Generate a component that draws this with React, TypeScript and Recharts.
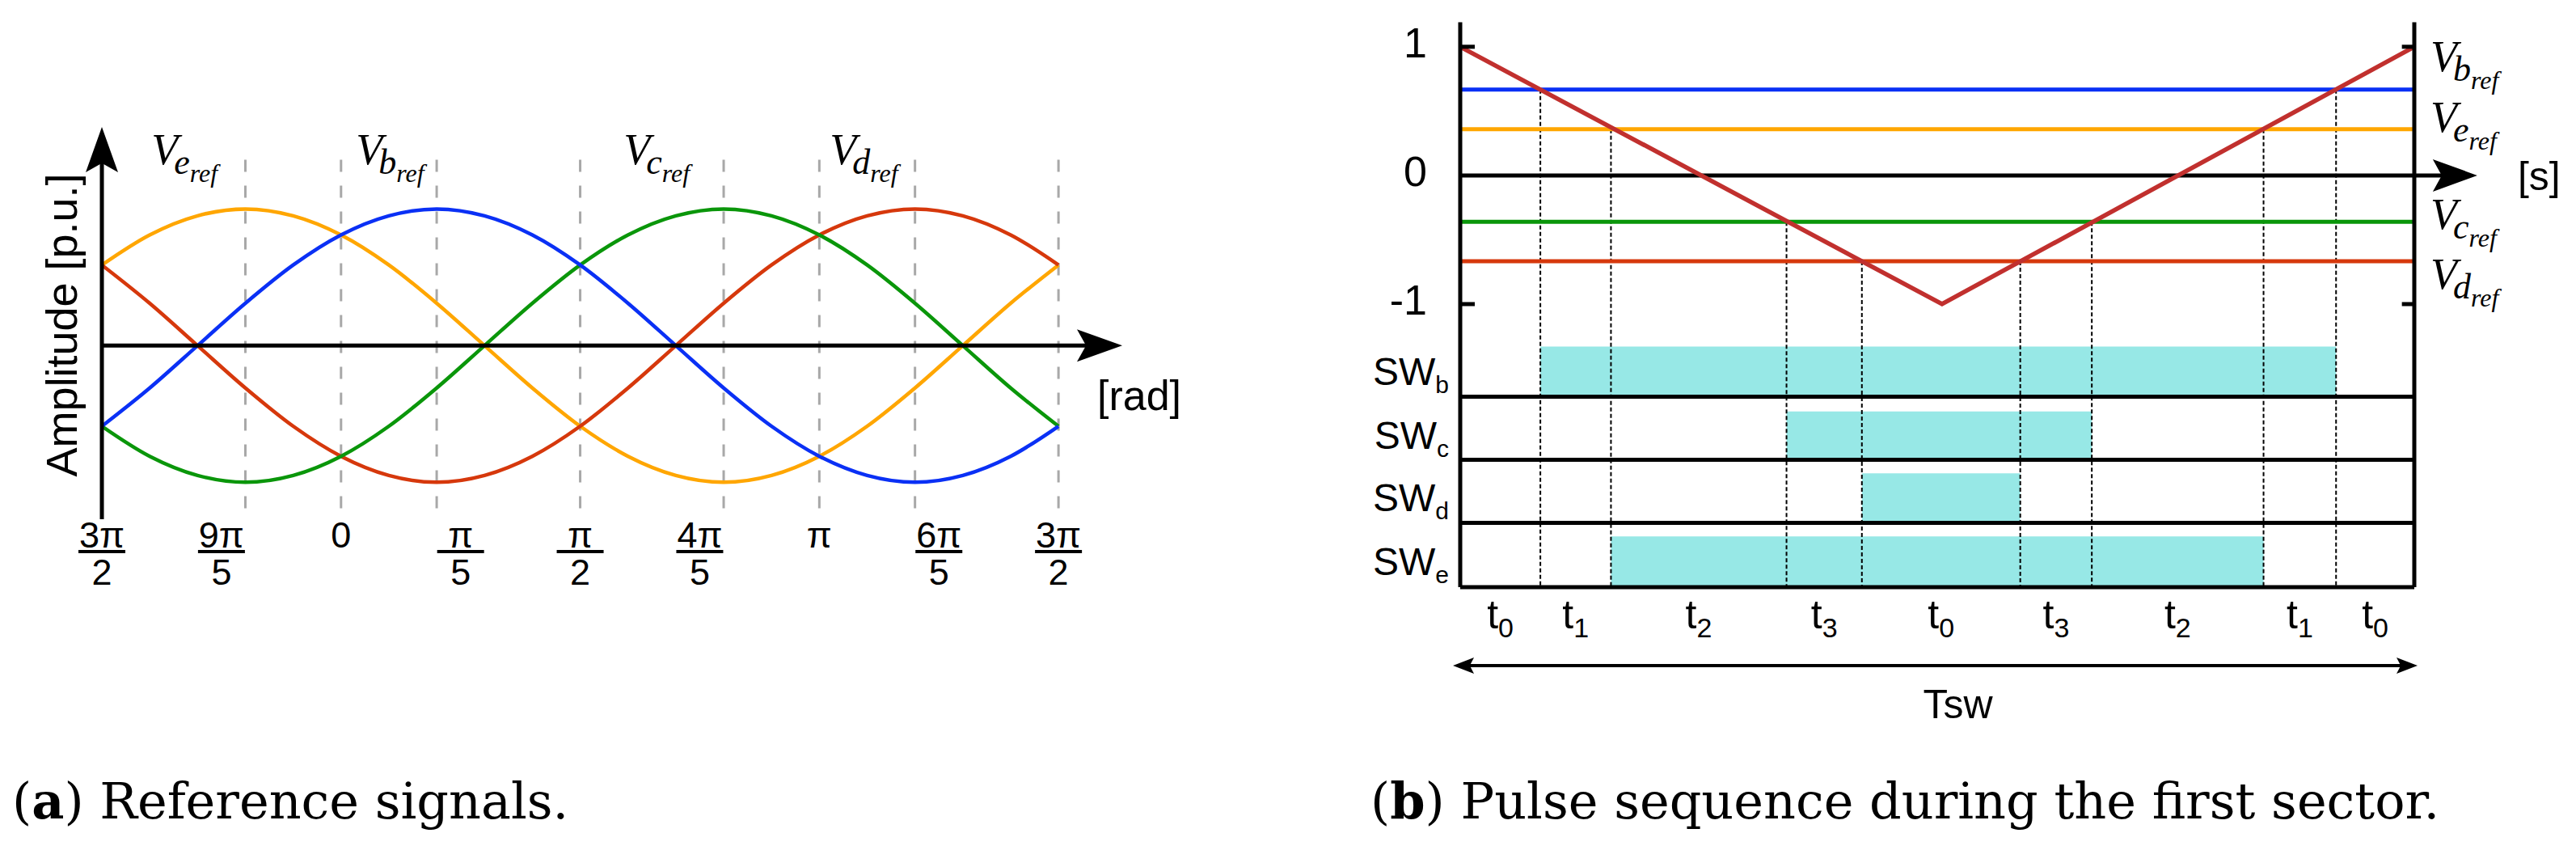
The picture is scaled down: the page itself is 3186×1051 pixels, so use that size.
import {
    ComposedChart,
    Line,
    LineChart,
    ReferenceArea,
    ReferenceDot,
    ReferenceLine,
    XAxis,
    YAxis,
} from 'recharts'

const SANS = "'Liberation Sans', Arial, sans-serif"
const SERIF = "'Liberation Serif', 'Times New Roman', serif"
const CAPTION_FONT = "'DejaVu Serif', 'Liberation Serif', serif"

const COLOR = { e: '#FFA600', b: '#0A30F5', c: '#0A960A', d: '#D6380C' } as Record<string, string>

// ---- (a) reference signals, read every 18° from 3π/2 over one period ----
const angleDeg = [270, 288, 306, 324, 342, 360, 378, 396, 414, 432, 450, 468, 486, 504, 522, 540, 558, 576, 594, 612, 630]
const veRef = [0.59, 0.81, 0.95, 1.0, 0.95, 0.81, 0.59, 0.31, 0.0, -0.31, -0.59, -0.81, -0.95, -1.0, -0.95, -0.81, -0.59, -0.31, 0.0, 0.31, 0.59]
const vbRef = [-0.59, -0.31, 0.0, 0.31, 0.59, 0.81, 0.95, 1.0, 0.95, 0.81, 0.59, 0.31, 0.0, -0.31, -0.59, -0.81, -0.95, -1.0, -0.95, -0.81, -0.59]
const vcRef = [-0.59, -0.81, -0.95, -1.0, -0.95, -0.81, -0.59, -0.31, 0.0, 0.31, 0.59, 0.81, 0.95, 1.0, 0.95, 0.81, 0.59, 0.31, 0.0, -0.31, -0.59]
const vdRef = [0.59, 0.31, 0.0, -0.31, -0.59, -0.81, -0.95, -1.0, -0.95, -0.81, -0.59, -0.31, 0.0, 0.31, 0.59, 0.81, 0.95, 1.0, 0.95, 0.81, 0.59]

// tick labels sit every 45°, the dashed guides at the real angles
const angleTicks = [270, 315, 360, 405, 450, 495, 540, 585, 630]
const angleTickNum = ['3π', '9π', '0', 'π', 'π', '4π', 'π', '6π', '3π']
const angleTickDen = ['2', '5', '', '5', '2', '5', '', '5', '2']
const guideAngles = [324, 360, 396, 450, 504, 540, 576, 630]
const refNames = ['e', 'b', 'c', 'd']
const refNameAngles = [288.6, 365.6, 466.3, 543.9]
const refNameLevel = 1.325

// ---- (b) pulse sequence, time as a fraction of Tsw ----
const carrierT = [0, 0.505, 1]
const carrierV = [1, -1, 1]
const levelNames = ['b', 'e', 'c', 'd']
const levelValues = [0.667, 0.36, -0.36, -0.667]
const levelLabelY = [0.81, 0.34, -0.415, -0.88]
const switchT = [0.084, 0.158, 0.342, 0.421, 0.587, 0.662, 0.842, 0.918]
const switchLevel = [0.667, 0.36, -0.36, -0.667, -0.667, -0.36, 0.36, 0.667]
const intervalNames = ['0', '1', '2', '3', '0', '3', '2', '1', '0']
const swRows = ['b', 'c', 'd', 'e']
const swOn = [0.084, 0.342, 0.421, 0.158]
const swOff = [0.918, 0.662, 0.587, 0.842]
const swTop = [-1.33, -1.835, -2.315, -2.805]
const swBase = [-1.72, -2.21, -2.7, -3.2]
const pulseTicks = [1, 0, -1]

const refRows = angleDeg.map((angle, i) => ({
    angle,
    ve: veRef[i],
    vb: vbRef[i],
    vc: vcRef[i],
    vd: vdRef[i],
}))

const pulseRows = carrierT.map((t, i) => {
    const row: Record<string, number> = { t, carrier: carrierV[i] }
    levelNames.forEach((n, j) => {
        row[n] = levelValues[j]
    })
    return row
})

const bounds = [0, ...switchT, 1]
const intervalCenters = intervalNames.map((_, i) => (bounds[i] + bounds[i + 1]) / 2)
const swCenters = swRows.map((_, i) => (swTop[i] + swBase[i]) / 2)

function arrowHead(x: number, y: number, ux: number, uy: number, len: number, hw: number) {
    const bx = x - ux * len
    const by = y - uy * len
    const px = -uy * hw
    const py = ux * hw
    const nx = x - ux * len * 0.8
    const ny = y - uy * len * 0.8
    return `M${x},${y} L${bx + px},${by + py} L${nx},${ny} L${bx - px},${by - py} Z`
}

type SegProps = { x1?: number; y1?: number; x2?: number; y2?: number }

// axis line with a filled arrow at the end (or both ends)
function arrowLine(len: number, hw: number, width: number, both = false) {
    return (p: SegProps) => {
        const x1 = Number(p.x1)
        const y1 = Number(p.y1)
        const x2 = Number(p.x2)
        const y2 = Number(p.y2)
        const d = Math.hypot(x2 - x1, y2 - y1) || 1
        const ux = (x2 - x1) / d
        const uy = (y2 - y1) / d
        const sx = both ? x1 + ux * len * 0.7 : x1
        const sy = both ? y1 + uy * len * 0.7 : y1
        return (
            <g>
                <line
                    x1={sx}
                    y1={sy}
                    x2={x2 - ux * len * 0.7}
                    y2={y2 - uy * len * 0.7}
                    stroke="#000"
                    strokeWidth={width}
                />
                <path d={arrowHead(x2, y2, ux, uy, len, hw)} fill="#000" />
                {both && <path d={arrowHead(x1, y1, -ux, -uy, len, hw)} fill="#000" />}
            </g>
        )
    }
}

function refSymbol(name: string) {
    return (p: { cx?: number; cy?: number }) => (
        <text x={p.cx} y={p.cy} fontFamily={SERIF} fontStyle="italic" fill="#000">
            <tspan fontSize={54}>V</tspan>
            <tspan fontSize={44} dx={-5} dy={12}>
                {name}
            </tspan>
            <tspan fontSize={32} dy={10}>
                ref
            </tspan>
        </text>
    )
}

type TickProps = { x?: number; y?: number; payload?: { value: number } }

function AngleTick({ x = 0, y = 0, payload }: TickProps) {
    const i = angleTicks.indexOf(Number(payload?.value))
    if (i < 0) return null
    const den = angleTickDen[i]
    return (
        <g fontFamily={SANS} fontSize={45} fill="#000">
            <text x={x} y={y + 30} textAnchor="middle">
                {angleTickNum[i]}
            </text>
            {den && (
                <>
                    <line x1={x - 29} x2={x + 29} y1={y + 35} y2={y + 35} stroke="#000" strokeWidth={4} />
                    <text x={x} y={y + 76} textAnchor="middle">
                        {den}
                    </text>
                </>
            )}
        </g>
    )
}

function PulseYTick({ x = 0, y = 0, payload }: TickProps) {
    const v = Number(payload?.value)
    const row = swCenters.indexOf(v)
    if (row >= 0) {
        return (
            <text x={x - 14} y={y + 16} textAnchor="end" fontFamily={SANS} fontSize={48} fill="#000">
                SW
                <tspan fontSize={30} dy={10}>
                    {swRows[row]}
                </tspan>
            </text>
        )
    }
    return (
        <g>
            <text x={x - 41} y={y + 13} textAnchor="end" fontFamily={SANS} fontSize={52} fill="#000">
                {v}
            </text>
            {v !== 0 && <line x1={x} x2={x + 18} y1={y} y2={y} stroke="#000" strokeWidth={5} />}
        </g>
    )
}

function IntervalTick({ x = 0, y = 0, payload }: TickProps) {
    const i = intervalCenters.indexOf(Number(payload?.value))
    if (i < 0) return null
    return (
        <text x={x} y={y + 51} textAnchor="middle" fontFamily={SANS} fontSize={50} fill="#000">
            t
            <tspan fontSize={34} dy={11}>
                {intervalNames[i]}
            </tspan>
        </text>
    )
}

function ReferenceSignals() {
    return (
        <LineChart
            width={1500}
            height={800}
            data={refRows}
            margin={{ top: 157, right: 112, bottom: 53, left: 26 }}
        >
            <XAxis
                dataKey="angle"
                type="number"
                domain={[270, 654]}
                allowDataOverflow
                ticks={angleTicks}
                interval={0}
                tick={(p: TickProps) => <AngleTick {...p} />}
                tickLine={false}
                axisLine={false}
                tickSize={0}
                tickMargin={0}
                height={100}
            />
            <YAxis
                type="number"
                domain={[-1.3, 1.6]}
                allowDataOverflow
                tick={false}
                tickLine={false}
                axisLine={false}
                width={100}
                label={{
                    value: 'Amplitude [p.u.]',
                    angle: -90,
                    position: 'center',
                    fontSize: 54,
                    fontFamily: SANS,
                    fill: '#000',
                }}
            />
            {guideAngles.map((a) => (
                <ReferenceLine
                    key={a}
                    segment={[
                        { x: a, y: 1.36 },
                        { x: a, y: -1.21 },
                    ]}
                    stroke="#A8A8A8"
                    strokeWidth={3}
                    strokeDasharray="15 17"
                />
            ))}
            <Line dataKey="ve" type="monotone" stroke={COLOR.e} strokeWidth={4.5} dot={false} activeDot={false} isAnimationActive={false} />
            <Line dataKey="vd" type="monotone" stroke={COLOR.d} strokeWidth={4.5} dot={false} activeDot={false} isAnimationActive={false} />
            <Line dataKey="vc" type="monotone" stroke={COLOR.c} strokeWidth={4.5} dot={false} activeDot={false} isAnimationActive={false} />
            <Line dataKey="vb" type="monotone" stroke={COLOR.b} strokeWidth={4.5} dot={false} activeDot={false} isAnimationActive={false} />
            <ReferenceLine
                segment={[
                    { x: 270, y: 0 },
                    { x: 654, y: 0 },
                ]}
                shape={arrowLine(56, 20, 5)}
                label={{ value: '[rad]', position: 'right', offset: -31, dy: 61, fontSize: 52, fontFamily: SANS, fill: '#000' }}
            />
            <ReferenceLine
                segment={[
                    { x: 270, y: -1.27 },
                    { x: 270, y: 1.6 },
                ]}
                shape={arrowLine(56, 20, 5)}
            />
            {refNames.map((n, i) => (
                <ReferenceDot key={n} x={refNameAngles[i]} y={refNameLevel} r={0} shape={refSymbol(n)} />
            ))}
        </LineChart>
    )
}

function PulseSequence() {
    return (
        <ComposedChart
            width={1586}
            height={1051}
            data={pulseRows}
            margin={{ top: 26, right: 200, bottom: 205, left: 56 }}
        >
            <XAxis
                dataKey="t"
                type="number"
                domain={[0, 1]}
                ticks={intervalCenters}
                interval={0}
                tick={(p: TickProps) => <IntervalTick {...p} />}
                tickLine={false}
                axisLine={false}
                tickSize={0}
                tickMargin={0}
                height={120}
            />
            <YAxis
                type="number"
                domain={[-3.2, 1.2]}
                allowDataOverflow
                ticks={[...pulseTicks, ...swCenters]}
                interval={0}
                tick={(p: TickProps) => <PulseYTick {...p} />}
                tickLine={false}
                axisLine={false}
                tickSize={0}
                tickMargin={0}
                width={150}
            />
            {swRows.map((r, i) => (
                <ReferenceArea
                    key={`fill-${r}`}
                    x1={swOn[i]}
                    x2={swOff[i]}
                    y1={swBase[i]}
                    y2={swTop[i]}
                    fill="#97E8E6"
                    fillOpacity={1}
                    stroke="none"
                />
            ))}
            {switchT.map((t, i) => (
                <ReferenceLine
                    key={`sw-${i}`}
                    segment={[
                        { x: t, y: switchLevel[i] },
                        { x: t, y: -3.2 },
                    ]}
                    stroke="#000"
                    strokeWidth={2}
                    strokeDasharray="5 3"
                />
            ))}
            {swRows.map((r, i) => (
                <ReferenceLine
                    key={`row-${r}`}
                    segment={[
                        { x: 0, y: swBase[i] },
                        { x: 1, y: swBase[i] },
                    ]}
                    stroke="#000"
                    strokeWidth={5}
                />
            ))}
            {levelNames.map((n) => (
                <Line
                    key={n}
                    dataKey={n}
                    type="linear"
                    stroke={COLOR[n]}
                    strokeWidth={5}
                    dot={false}
                    activeDot={false}
                    isAnimationActive={false}
                />
            ))}
            <ReferenceLine
                segment={[
                    { x: 0, y: 0 },
                    { x: 1.066, y: 0 },
                ]}
                ifOverflow="visible"
                shape={arrowLine(55, 20, 5)}
                label={{ value: '[s]', position: 'right', offset: 50, fontSize: 50, fontFamily: SANS, fill: '#000' }}
            />
            <Line
                dataKey="carrier"
                type="linear"
                stroke="#C1302E"
                strokeWidth={5.5}
                dot={false}
                activeDot={false}
                isAnimationActive={false}
            />
            <ReferenceLine
                segment={[
                    { x: 0, y: 1.19 },
                    { x: 0, y: -3.2 },
                ]}
                stroke="#000"
                strokeWidth={5}
            />
            <ReferenceLine
                segment={[
                    { x: 1, y: 1.19 },
                    { x: 1, y: -3.2 },
                ]}
                stroke="#000"
                strokeWidth={5}
            />
            {pulseTicks
                .filter((v) => v !== 0)
                .map((v) => (
                    <ReferenceLine
                        key={`rt-${v}`}
                        segment={[
                            { x: 0.987, y: v },
                            { x: 1, y: v },
                        ]}
                        stroke="#000"
                        strokeWidth={5}
                    />
                ))}
            <ReferenceLine
                segment={[
                    { x: -0.0076, y: -3.81 },
                    { x: 1.0034, y: -3.81 },
                ]}
                ifOverflow="visible"
                shape={arrowLine(26, 10, 4, true)}
                label={{ value: 'Tsw', position: 'bottom', offset: 29, dx: 28, fontSize: 50, fontFamily: SANS, fill: '#000' }}
            />
            {levelNames.map((n, i) => (
                <ReferenceDot
                    key={`lbl-${n}`}
                    x={1.017}
                    y={levelLabelY[i]}
                    r={0}
                    ifOverflow="visible"
                    shape={refSymbol(n)}
                />
            ))}
        </ComposedChart>
    )
}

export default function App() {
    return (
        <div style={{ position: 'absolute', left: 0, top: 0, width: 3186, height: 1051, background: '#fff' }}>
            <svg width={3186} height={1051} style={{ position: 'absolute', left: 0, top: 0 }}>
                <text x={15} y={1012} fontFamily={CAPTION_FONT} fontSize={62} fill="#000">
                    (<tspan fontWeight="bold">a</tspan>) Reference signals.
                </text>
                <text x={1695} y={1012} fontFamily={CAPTION_FONT} fontSize={62} fill="#000">
                    (<tspan fontWeight="bold">b</tspan>) Pulse sequence during the first sector.
                </text>
            </svg>
            <div style={{ position: 'absolute', left: 0, top: 0 }}>
                <ReferenceSignals />
            </div>
            <div style={{ position: 'absolute', left: 1600, top: 0 }}>
                <PulseSequence />
            </div>
        </div>
    )
}
